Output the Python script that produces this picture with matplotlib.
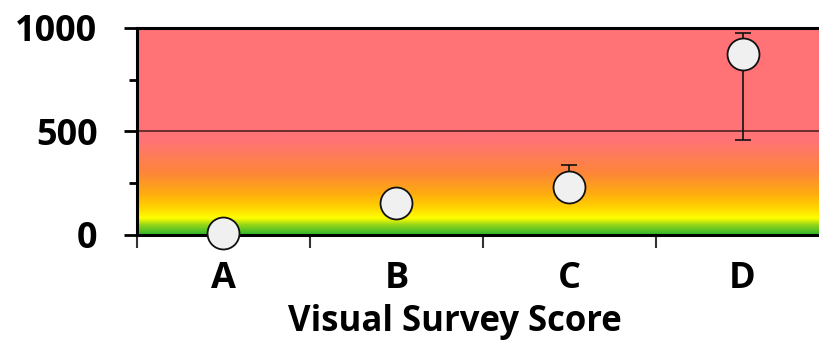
import matplotlib
matplotlib.use("Agg")
import matplotlib.pyplot as plt
import numpy as np
from matplotlib.colors import LinearSegmentedColormap

# data
categories = ["A", "B", "C", "D"]
means = [8, 155, 232, 874]
err_low = [0, 0, 0, 415]
err_high = [0, 0, 105, 102]

y_max = 1000
threshold = 500

# background gradient: value fraction -> colour
grad_stops = [
    (0.00, "#2eb52e"),
    (0.045, "#8fd41a"),
    (0.08, "#ffff00"),
    (0.13, "#ffd400"),
    (0.20, "#ffab10"),
    (0.30, "#fd853a"),
    (0.40, "#ff7a60"),
    (0.46, "#ff7377"),
    (1.00, "#ff7377"),
]

plt.rcParams["font.family"] = ["Open Sans", "DejaVu Sans"]
plt.rcParams["font.weight"] = "bold"

fig = plt.figure(figsize=(8.2, 3.4), dpi=100)
ax = fig.add_axes([0.167, 0.309, 0.844, 0.609])

n = len(categories)
xs = np.arange(n)
ax.set_xlim(-0.5, n - 0.5)
ax.set_ylim(0, y_max)

cmap = LinearSegmentedColormap.from_list("zone", grad_stops)
grad = np.linspace(0, 1, 512).reshape(-1, 1)
ax.imshow(grad, cmap=cmap, origin="lower", aspect="auto",
          extent=[-0.5, n - 0.5, 0, y_max], zorder=0, interpolation="bilinear")

ax.axhline(threshold, color="#5c2a2a", lw=1.3, zorder=1)

ax.errorbar(xs, means, yerr=[err_low, err_high], fmt="none",
            ecolor="#111111", elinewidth=1.2, capsize=6, capthick=1.2,
            zorder=2, clip_on=False)
ax.plot(xs, means, "o", ms=23, mfc="#f0f0f0", mec="#111111", mew=1.3,
        zorder=3, clip_on=False)

for side in ["left", "bottom", "top"]:
    ax.spines[side].set_linewidth(2.2)
ax.spines["right"].set_visible(False)

ax.set_yticks([0, 500, 1000])
ax.set_yticks([250, 750], minor=True)
ax.tick_params(axis="y", which="major", length=9.4, width=2, labelsize=26, pad=19)
ax.tick_params(axis="y", which="minor", length=6, width=2)

# category labels centred, tick marks at the boundaries
ax.set_xticks(xs)
ax.set_xticklabels(categories)
ax.tick_params(axis="x", which="major", length=0, labelsize=26, pad=19)
ax.set_xticks(np.arange(n + 1) - 0.5, minor=True)
ax.tick_params(axis="x", which="minor", length=9, width=1.5, color="#333333")

ax.set_xlabel("Visual Survey Score", fontsize=25, fontweight="bold")
ax.xaxis.set_label_coords(0.46, -0.335)

plt.savefig("out.png", dpi=100)
